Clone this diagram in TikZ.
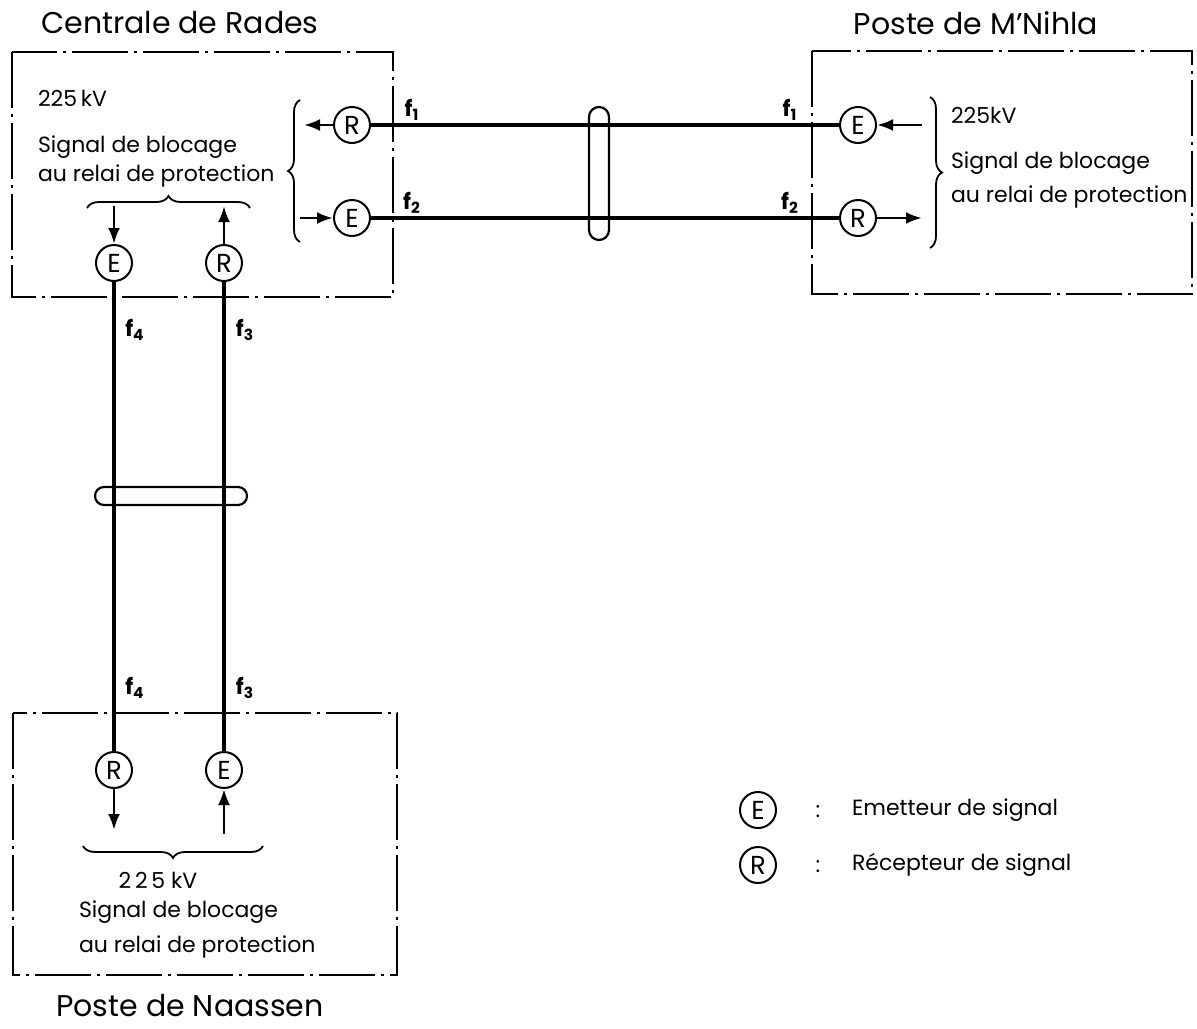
\documentclass[tikz,border=0pt]{standalone}
\usepackage{fontspec}
\setmainfont{Poppins}
\usetikzlibrary{arrows.meta, decorations.pathreplacing}

\begin{document}
\begin{tikzpicture}[x=0.5pt, y=-0.5pt,
  every node/.style={font=\fontsize{11}{14}\selectfont},
  title/.style={font=\fontsize{15}{17}\selectfont, inner sep=1pt},
  sig/.style={draw, circle, line width=1pt, minimum size=18pt, inner sep=0pt, font=\fontsize{13}{14}\selectfont},
  zone/.style={line width=1pt, dash pattern=on 28pt off 3pt on 1.5pt off 3pt},
  link/.style={line width=2.4pt},
  brc/.style={decorate, decoration={brace, amplitude=6pt}, line width=0.9pt},
  arr/.style={-{Latex[length=8pt, width=6pt]}, line width=1.4pt},
  ring/.style={line width=1.1pt}]
\useasboundingbox (0,0) rectangle (1197,1028);

\draw[zone] (12,52) rectangle (393,297);
\draw[zone] (812,51) rectangle (1192,294);
\draw[zone] (13,713) rectangle (397,975);

\node[title] (tRades) at (180,23) {Centrale de Rades};
\node[title] (tNihla) at (976,23) {Poste de M'Nihla};
\node[title] (tNaassen) at (190,1006) {Poste de Naassen};

\node[anchor=west] (kvRades) at (31,98) {225\,kV};
\node[anchor=west, align=left, font=\fontsize{11}{14.5}\selectfont] (txtRades) at (31,161) {Signal de blocage\\au relai de protection};
\node[anchor=west] (kvNihla) at (944,115) {225kV};
\node[anchor=west, align=left, font=\fontsize{11}{17}\selectfont] (txtNihla) at (944,180) {Signal de blocage\\au relai de protection};
\node (kvNaassen) at (158,880) {2\,2\,5 kV};
\node[anchor=west, align=left, font=\fontsize{11}{17.5}\selectfont] (txtNaassen) at (72,929) {Signal de blocage\\au relai de protection};

\node[sig] (radesR1) at (352,125) {R};
\node[sig] (radesE2) at (352,218) {E};
\node[sig] (radesE4) at (114,263) {E};
\node[sig] (radesR3) at (224,263) {R};
\node[sig] (nihlaE1) at (858,125) {E};
\node[sig] (nihlaR2) at (858,218) {R};
\node[sig] (naasR4) at (114,770) {R};
\node[sig] (naasE3) at (224,770) {E};

\draw[link] (radesR1) -- (nihlaE1);
\draw[link] (radesE2) -- (nihlaR2);
\draw[link] (radesE4) -- (naasR4);
\draw[link] (naasE3) -- (radesR3);

\node (f1a) at (412,110) {\textbf{f\textsubscript{1}}};
\node (f2a) at (412,203) {\textbf{f\textsubscript{2}}};
\node (f1b) at (790,110) {\textbf{f\textsubscript{1}}};
\node (f2b) at (790,203) {\textbf{f\textsubscript{2}}};
\node (f4a) at (135,330) {\textbf{f\textsubscript{4}}};
\node (f3a) at (245,330) {\textbf{f\textsubscript{3}}};
\node (f4b) at (135,688) {\textbf{f\textsubscript{4}}};
\node (f3b) at (245,688) {\textbf{f\textsubscript{3}}};

\draw[ring, rounded corners=4.5pt] (95,487) rectangle (247,505);
\draw[ring, rounded corners=5pt] (589,107) rectangle (609,240);

\draw[brc] (300,242) -- (300,100);
\coordinate (bR1) at (304,125);
\coordinate (bE2) at (300,218);
\draw[arr] (radesR1) -- (bR1);
\draw[arr] (bE2) -- (radesE2);

\draw[brc] (87,208) -- (250,208);
\coordinate (bE4) at (114,206);
\coordinate (bR3) at (224,206);
\draw[arr] (bE4) -- (radesE4);
\draw[arr] (radesR3) -- (bR3);

\draw[brc] (930,97) -- (930,248);
\coordinate (bE1) at (922,125);
\coordinate (bR2) at (922,218);
\draw[arr] (bE1) -- (nihlaE1);
\draw[arr] (nihlaR2) -- (bR2);

\draw[brc] (263,846) -- (83,846);
\coordinate (bR4) at (114,830);
\coordinate (bE3) at (224,834);
\draw[arr] (naasR4) -- (bR4);
\draw[arr] (bE3) -- (naasE3);

\node[sig] (legE) at (758,810) {E};
\node (colE) at (818,812) {:};
\node[anchor=west] (legTxtE) at (845,810) {Emetteur de signal};
\node[sig] (legR) at (758,865) {R};
\node (colR) at (818,867) {:};
\node[anchor=west] (legTxtR) at (845,865) {Récepteur de signal};
\end{tikzpicture}
\end{document}
